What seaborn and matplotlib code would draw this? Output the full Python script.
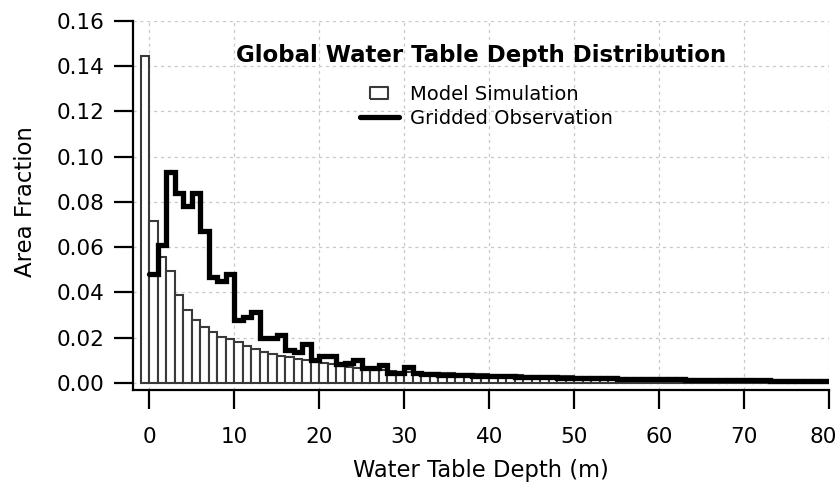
import numpy as np
import pandas as pd
import matplotlib
matplotlib.use("Agg")
import matplotlib.pyplot as plt
from matplotlib.lines import Line2D
from matplotlib.transforms import ScaledTranslation
import seaborn as sns

# ---- data ----
# Model simulation: area fraction per 1-m depth bin, bins start at -1 m
model_bin_left = list(range(-1, 80))
model_fraction = [
    0.1444, 0.0717, 0.0555, 0.0496, 0.0389, 0.0322, 0.0278, 0.0246, 0.0227, 0.0205,
    0.0193, 0.0182, 0.0163, 0.0149, 0.0138, 0.0128, 0.0119, 0.0113, 0.0107, 0.0100,
    0.0094, 0.0088, 0.0082, 0.0076, 0.0071, 0.0066, 0.0062, 0.0059, 0.0056, 0.0053,
    0.0050, 0.0048, 0.0046, 0.0045, 0.0044, 0.0043, 0.0042, 0.0041, 0.0040, 0.0039,
    0.0038, 0.0037, 0.0036, 0.0035, 0.0034, 0.0033, 0.0032, 0.0031, 0.0030, 0.0030,
    0.0029, 0.0028, 0.0027, 0.0027, 0.0026, 0.0025, 0.0024, 0.0024, 0.0023, 0.0022,
    0.0022, 0.0021, 0.0020, 0.0020, 0.0019, 0.0019, 0.0018, 0.0018, 0.0017, 0.0017,
    0.0016, 0.0016, 0.0015, 0.0015, 0.0014, 0.0014, 0.0013, 0.0013, 0.0012, 0.0012,
    0.0011,
]

# Gridded observation: area fraction per 1-m depth bin, bins start at 0 m
obs_bin_left = list(range(0, 80))
obs_fraction = [
    0.0480, 0.0610, 0.0930, 0.0840, 0.0780, 0.0840, 0.0670, 0.0470, 0.0450, 0.0480,
    0.0280, 0.0290, 0.0315, 0.0197, 0.0200, 0.0210, 0.0145, 0.0135, 0.0172, 0.0103,
    0.0118, 0.0118, 0.0085, 0.0088, 0.0102, 0.0068, 0.0068, 0.0078, 0.0045, 0.0045,
    0.0072, 0.0042, 0.0040, 0.0038, 0.0037, 0.0036, 0.0035, 0.0034, 0.0033, 0.0032,
    0.0031, 0.0030, 0.0029, 0.0028, 0.0027, 0.0026, 0.0026, 0.0025, 0.0024, 0.0023,
    0.0023, 0.0022, 0.0021, 0.0021, 0.0020, 0.0019, 0.0019, 0.0018, 0.0018, 0.0017,
    0.0017, 0.0016, 0.0016, 0.0015, 0.0015, 0.0014, 0.0014, 0.0013, 0.0013, 0.0012,
    0.0012, 0.0011, 0.0011, 0.0010, 0.0010, 0.0009, 0.0009, 0.0009, 0.0008, 0.0008,
]

x_ticks = [0, 10, 20, 30, 40, 50, 60, 70, 80]
y_ticks = [0.00, 0.02, 0.04, 0.06, 0.08, 0.10, 0.12, 0.14, 0.16]
y_tick_labels = ["0.00", "0.02", "0.04", "0.06", "0.08", "0.10", "0.12", "0.14", "0.16"]

title = "Global Water Table Depth Distribution"
legend_labels = ["Model Simulation", "Gridded Observation"]
x_label = "Water Table Depth (m)"
y_label = "Area Fraction"

# ---- style ----
sns.set_style("ticks")
plt.rcParams["font.family"] = ["DejaVu Sans"]
plt.rcParams["text.color"] = "black"
plt.rcParams["axes.labelcolor"] = "black"
plt.rcParams["xtick.color"] = "black"
plt.rcParams["ytick.color"] = "black"

bar_edge = "#3a3a3a"

fig = plt.figure(figsize=(8.4, 4.84), dpi=100)
ax = fig.add_axes([0.1583, 0.1942, 0.8286, 0.7630])

df_model = pd.DataFrame({"depth": np.array(model_bin_left) + 0.5,
                         "fraction": model_fraction})
sns.histplot(data=df_model, x="depth", weights="fraction", binwidth=1,
             binrange=(-1, 80), stat="count", fill=True, color="white",
             edgecolor=bar_edge, linewidth=1.5, alpha=1, ax=ax)

df_obs = pd.DataFrame({"depth": obs_bin_left + [80],
                       "fraction": obs_fraction + [obs_fraction[-1]]})
sns.lineplot(data=df_obs, x="depth", y="fraction", drawstyle="steps-post",
             color="black", linewidth=3.8, solid_joinstyle="miter", ax=ax)

ax.set_xlim(-1.92, 80)
ax.set_ylim(-0.0031, 0.16)
ax.set_xticks(x_ticks)
ax.set_yticks(y_ticks)
ax.set_yticklabels(y_tick_labels)

for s in ["top", "right"]:
    ax.spines[s].set_visible(False)
for s in ["left", "bottom"]:
    ax.spines[s].set_linewidth(1.6)
    ax.spines[s].set_color("black")

ax.tick_params(axis="both", direction="out", length=13.5, width=1.6,
               color="black", labelsize=15.5, labelcolor="black")
ax.tick_params(axis="x", pad=13)
ax.tick_params(axis="y", pad=7)

# nudge the last x tick label so it stays inside the picture
last = ax.get_xticklabels()[-1]
last.set_transform(last.get_transform() +
                   ScaledTranslation(-4 / 72, 0, fig.dpi_scale_trans))

ax.grid(True, linestyle=(0, (2.5, 3)), color="#c8c8c8", linewidth=0.9)
ax.set_axisbelow(True)

ax.set_xlabel(x_label, fontsize=16.3, color="black")
ax.xaxis.set_label_coords(0.5, -0.188)
ax.set_ylabel(y_label, fontsize=16.4, color="black")
ax.yaxis.set_label_coords(-0.138, 0.509)

ax.text(0.5, 0.889, title, transform=ax.transAxes, ha="center",
        va="baseline", fontsize=16.5, fontweight="bold", color="black")

rect = [(-1.5, -1), (1.5, -1), (1.5, 1), (-1.5, 1), (-1.5, -1)]
handles = [
    Line2D([], [], linestyle="none", marker=rect, markersize=13,
           markerfacecolor="white", markeredgecolor=bar_edge,
           markeredgewidth=1.5),
    Line2D([], [], color="black", linewidth=3.8),
]
leg = ax.legend(handles, legend_labels, loc="upper left",
                bbox_to_anchor=(0.326, 0.826), frameon=False, fontsize=14,
                handlelength=2.0, handletextpad=0.6, labelspacing=0.25,
                borderpad=0, borderaxespad=0)
for t in leg.get_texts():
    t.set_color("black")

fig.savefig("out.png", dpi=100)
